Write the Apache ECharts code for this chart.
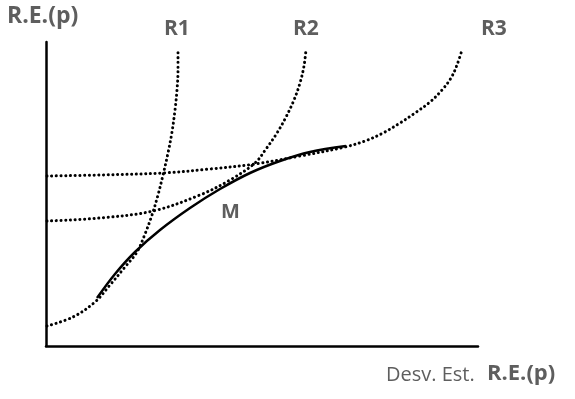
<!DOCTYPE html>
<html><head><meta charset="utf-8">
<script src="https://cdn.jsdelivr.net/npm/echarts@6/dist/echarts.min.js"></script>
<style>html,body{margin:0;padding:0;background:#fff}#c{width:575px;height:399px}</style>
</head><body><div id="c"></div>
<script>
// Data in axis units (x: 0..432, y: 0..304)
var r1 = [[1,20],[27,29],[49,44],[64,61],[79,79],[91,94],[99,112],[106,131],[112,151],[117,171],[122,193],[126,214],[129,236],[131,256],[132,276],[132,296]];
var r2 = [[1,125],[54,128],[107,135],[154,151],[184,166],[209,183],[220,197],[231,213],[240,229],[248,246],[254,263],[258,280],[260,296]];
var r3 = [[1,170],[54,171],[117,173],[164,177],[209,182],[254,190],[299,199],[319,205],[337,213],[354,223],[369,233],[384,244],[396,256],[405,268],[411,281],[416,296]];
var m  = [[51,48],[69,72],[89,94],[114,116],[144,138],[174,157],[204,173],[234,185],[264,194],[300,200]];
var labels = {y:'R.E.(p)', x1:'Desv. Est.', x2:'R.E.(p)', r1:'R1', r2:'R2', r3:'R3', m:'M'};

var chart = echarts.init(document.getElementById('c'), null, {renderer:'canvas'});
var dotted = {color:'#000', width:3, type:[0.1,4.6], cap:'round'};
function ser(d, ls){ return {type:'line', data:d, smooth:0.35, showSymbol:false, symbol:'none', lineStyle:ls, silent:true, animation:false}; }
var font = '"Open Sans", "Noto Sans", sans-serif';
var gray = '#5e5e5e';
chart.setOption({
  animation:false,
  grid:{left:46, top:42, width:432, height:304},
  xAxis:{type:'value', min:0, max:432, axisLine:{show:true, lineStyle:{color:'#000', width:2.5}}, axisTick:{show:false}, axisLabel:{show:false}, splitLine:{show:false}},
  yAxis:{type:'value', min:0, max:304, axisLine:{show:true, lineStyle:{color:'#000', width:2.5}}, axisTick:{show:false}, axisLabel:{show:false}, splitLine:{show:false}},
  series:[
    ser(r1, dotted), ser(r2, dotted), ser(r3, dotted),
    ser(m, {color:'#000', width:2.5, type:'solid'})
  ],
  graphic:[
    {type:'text', left:7, top:5, style:{text:labels.y, font:'bold 23px '+font, fill:gray}},
    {type:'text', left:164, top:19, style:{text:labels.r1, font:'bold 21px '+font, fill:gray}},
    {type:'text', left:293, top:19, style:{text:labels.r2, font:'bold 21px '+font, fill:gray}},
    {type:'text', left:481, top:19, style:{text:labels.r3, font:'bold 21px '+font, fill:gray}},
    {type:'text', left:221, top:202, style:{text:labels.m, font:'bold 20px '+font, fill:gray}},
    {type:'text', left:386, top:365, style:{text:labels.x1, font:'400 20px '+font, fill:gray}},
    {type:'text', left:487, top:363, style:{text:labels.x2, font:'bold 22px '+font, fill:gray}}
  ]
});
</script></body></html>
